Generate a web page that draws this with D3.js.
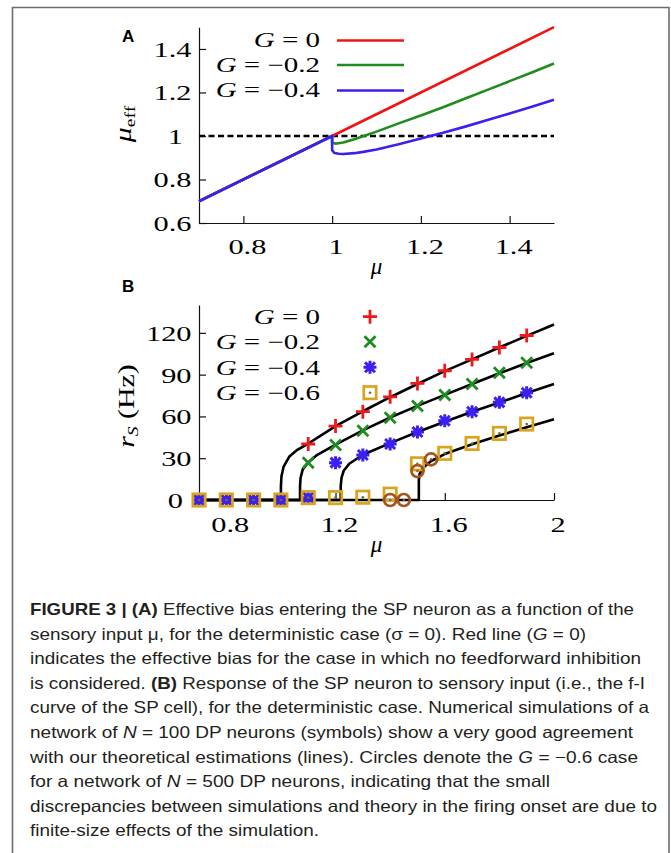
<!DOCTYPE html>
<html><head><meta charset="utf-8">
<script src="https://cdn.jsdelivr.net/npm/d3@7"></script>
<style>
html,body{margin:0;padding:0;background:#fff;}
svg{display:block;}
</style></head>
<body>
<svg id="fig" width="671" height="853"></svg>
<script>
// ---------- Panel A data ----------
const muA_G0 = [0.7, 1.0, 1.5];
const effA_G0 = [0.7, 1.0, 1.5];
const muA_G02 = [0.7, 1.0, 1.0, 1.01, 1.025, 1.05, 1.07, 1.1, 1.15, 1.2, 1.25, 1.3, 1.35, 1.4, 1.45, 1.5];
const effA_G02 = [0.7, 1.0, 0.968, 0.965, 0.970, 0.985, 0.999, 1.02, 1.058, 1.094, 1.132, 1.172, 1.212, 1.252, 1.292, 1.333];
const muA_G04 = [0.7, 1.0, 1.0, 1.005, 1.015, 1.025, 1.05, 1.07, 1.1, 1.15, 1.2, 1.25, 1.3, 1.35, 1.4, 1.45, 1.5];
const effA_G04 = [0.7, 1.0, 0.935, 0.922, 0.918, 0.917, 0.921, 0.927, 0.938, 0.962, 0.988, 1.015, 1.043, 1.073, 1.103, 1.134, 1.166];
const refLineA = [1, 1];
const legendA = ["0", "−0.2", "−0.4"];
const colorsA = ["#ee1414", "#1f8c1f", "#3c20f0"];
const xTicksA = [0.8, 1, 1.2, 1.4];
const yTicksA = [0.6, 0.8, 1, 1.2, 1.4];

// ---------- Panel B data ----------
const muTh_G0 = [0.7, 1.0, 1.0, 1.002, 1.01, 1.03, 1.06, 1.1, 1.2, 1.3, 1.4, 1.5, 1.6, 1.7, 1.8, 1.9, 2.0];
const rTh_G0 = [0, 0, 10, 17, 24, 31, 36, 40.5, 53, 63.7, 73.8, 83.3, 92.5, 101, 109.5, 117.8, 126];
const muTh_G02 = [0.7, 1.07, 1.07, 1.072, 1.08, 1.1, 1.13, 1.2, 1.3, 1.4, 1.5, 1.6, 1.7, 1.8, 1.9, 2.0];
const rTh_G02 = [0, 0, 10, 16, 22, 27, 32, 39.8, 50, 59.2, 67.6, 75.5, 83.3, 91, 98.3, 105.3];
const muTh_G04 = [0.7, 1.219, 1.219, 1.222, 1.23, 1.25, 1.3, 1.4, 1.5, 1.6, 1.7, 1.8, 1.9, 2.0];
const rTh_G04 = [0, 0, 10, 16, 21, 26, 32.5, 40.8, 48.8, 56.2, 63.3, 70, 76.8, 83.3];
const muTh_G06 = [0.7, 1.505, 1.505, 1.508, 1.52, 1.55, 1.6, 1.7, 1.8, 1.9, 2.0];
const rTh_G06 = [0, 0, 14, 19, 23, 28, 33, 40, 46.3, 52.2, 57.9];

const muSim = [0.7, 0.8, 0.9, 1.0, 1.1, 1.2, 1.3, 1.4, 1.5, 1.6, 1.7, 1.8, 1.9];
const rSim_G0 = [0, 0, 0, 0, 40.2, 53.1, 63.4, 74.1, 83.7, 92.8, 100.9, 109.5, 118.1];
const rSim_G02 = [0, 0, 0, 0, 26.8, 39.5, 49.8, 59.1, 67.5, 75.4, 83.3, 91.4, 98.6];
const rSim_G04 = [0, 0, 0, 0, 1.7, 26.8, 32.3, 40.2, 48.8, 56.9, 63.4, 70.1, 77.0];
const rSim_G06 = [0, 0, 0, 0, 1.7, 1.7, 2.0, 4.2, 26.0, 33.5, 40.6, 47.8, 54.5];
const muN500 = [1.4, 1.45, 1.5, 1.55];
const rN500 = [0, 0, 20.8, 29.2];
const legendB = ["0", "−0.2", "−0.4", "−0.6"];
const xTicksB = [0.8, 1.2, 1.6, 2];
const yTicksB = [0, 30, 60, 90, 120];

// ---------- Caption ----------
const captionLines = [
  [["FIGURE 3 | (A)", "b"], [" Effective bias entering the SP neuron as a function of the", ""]],
  [["sensory input μ, for the deterministic case (σ = 0). Red line (", ""], ["G", "i"], [" = 0)", ""]],
  [["indicates the effective bias for the case in which no feedforward inhibition", ""]],
  [["is considered. ", ""], ["(B)", "b"], [" Response of the SP neuron to sensory input (i.e., the f-I", ""]],
  [["curve of the SP cell), for the deterministic case. Numerical simulations of a", ""]],
  [["network of ", ""], ["N", "i"], [" = 100 DP neurons (symbols) show a very good agreement", ""]],
  [["with our theoretical estimations (lines). Circles denote the ", ""], ["G", "i"], [" = −0.6 case", ""]],
  [["for a network of ", ""], ["N", "i"], [" = 500 DP neurons, indicating that the small", ""]],
  [["discrepancies between simulations and theory in the firing onset are due to", ""]],
  [["finite-size effects of the simulation.", ""]]
];
const captionEnds = [634, 586, 641, 645, 649, 633, 638, 550, 657, 319];

// ---------- drawing ----------
const svg = d3.select("#fig");
const SERIF = "'Liberation Serif','Times New Roman',serif";
const SX = 1.38;

// frame
svg.append("path").attr("d", "M12.5,853V7.5H669V853").attr("fill", "none")
  .attr("stroke", "#6e6e6e").attr("stroke-width", 1.6);

function wideText(g, x, y, anchor, size) {
  return g.append("text").attr("transform", `translate(${x},${y}) scale(${SX},1)`)
    .attr("text-anchor", anchor).attr("font-family", SERIF).attr("font-size", size).attr("fill", "#000");
}
function styleAxis(sel) {
  sel.select(".domain").attr("stroke", "#111").attr("stroke-width", 1.2);
  sel.selectAll(".tick line").attr("stroke", "#111").attr("stroke-width", 1.2);
}
function yAxisLabels(sel, fmt) {
  sel.selectAll(".tick text").each(function(d) {
    const t = d3.select(this); const s = fmt(d);
    const dx = s.length === 1 ? -16 : -7.5;
    t.text(s).attr("x", 0).attr("dy", null).attr("y", 0)
     .attr("transform", `translate(${dx},7.5) scale(${SX},1)`)
     .attr("text-anchor", "end").attr("font-family", SERIF).attr("font-size", 22).attr("fill", "#000");
  });
}
function xAxisLabels(sel, fmt, off) {
  sel.selectAll(".tick text").each(function(d) {
    const t = d3.select(this);
    t.text(fmt(d)).attr("x", 0).attr("dy", null).attr("y", 0)
     .attr("transform", `translate(3.5,${off}) scale(${SX},1)`)
     .attr("text-anchor", "middle").attr("font-family", SERIF).attr("font-size", 22).attr("fill", "#000");
  });
}

// ===== Panel A =====
const xA = d3.scaleLinear().domain([0.7, 1.5]).range([199, 554]);
const yA = d3.scaleLinear().domain([0.6, 1.5]).range([223, 27.2]);
const gA = svg.append("g");

const axAx = gA.append("g").attr("transform", `translate(0,${yA(0.6)})`)
  .call(d3.axisBottom(xA).tickValues(xTicksA).tickSizeInner(-7).tickSizeOuter(0));
styleAxis(axAx); xAxisLabels(axAx, d => String(d), 31);
const ayAx = gA.append("g").attr("transform", `translate(${xA(0.7)},0)`)
  .call(d3.axisLeft(yA).tickValues(yTicksA).tickSizeInner(-7).tickSizeOuter(0));
styleAxis(ayAx); yAxisLabels(ayAx, d => String(d));

const lineA = d3.line().x(d => xA(d[0])).y(d => yA(d[1]));
// dashed reference line
gA.append("path").attr("d", lineA([[0.7, refLineA[0]], [1.5, refLineA[1]]]))
  .attr("fill", "none").attr("stroke", "#000").attr("stroke-width", 2.4).attr("stroke-dasharray", "6,3.5");
const seriesA = [
  d3.zip(muA_G0, effA_G0), d3.zip(muA_G02, effA_G02), d3.zip(muA_G04, effA_G04)
];
seriesA.forEach((s, i) => {
  gA.append("path").attr("d", lineA(s)).attr("fill", "none")
    .attr("stroke", colorsA[i]).attr("stroke-width", 2.6).attr("stroke-linejoin", "round");
});
// legend A
const legYA = [40.5, 65, 90.5];
legendA.forEach((lab, i) => {
  const t = wideText(gA, 320, legYA[i] + 6.5, "end", 21);
  t.append("tspan").attr("font-style", "italic").text("G");
  t.append("tspan").text(" = " + lab);
  gA.append("line").attr("x1", 337).attr("x2", 404).attr("y1", legYA[i]).attr("y2", legYA[i])
    .attr("stroke", colorsA[i]).attr("stroke-width", 2.6);
});
// axis titles A
gA.append("text").attr("x", 376.5).attr("y", 274).attr("text-anchor", "middle")
  .attr("font-family", SERIF).attr("font-style", "italic").attr("font-size", 23).text("μ");
const tyA = gA.append("text").attr("transform", "translate(131,124) rotate(-90) scale(1.3,1)")
  .attr("text-anchor", "middle").attr("font-family", SERIF);
tyA.append("tspan").attr("font-style", "italic").attr("font-size", 23).text("μ");
tyA.append("tspan").attr("font-size", 15).attr("dy", 4).text("eff");
gA.append("text").attr("x", 122).attr("y", 42).attr("font-family", "'Liberation Sans',Arial,sans-serif")
  .attr("font-weight", "bold").attr("font-size", 17).text("A");

// ===== Panel B =====
const xB = d3.scaleLinear().domain([0.7, 2]).range([199, 554]);
const yB = d3.scaleLinear().domain([0, 140]).range([500, 305]);
const gB = svg.append("g");

const bxAx = gB.append("g").attr("transform", `translate(0,${yB(0)})`)
  .call(d3.axisBottom(xB).tickValues(xTicksB).tickSizeInner(-7).tickSizeOuter(0));
styleAxis(bxAx); xAxisLabels(bxAx, d => String(d), 32);
const byAx = gB.append("g").attr("transform", `translate(${xB(0.7)},0)`)
  .call(d3.axisLeft(yB).tickValues(yTicksB).tickSizeInner(-7).tickSizeOuter(0));
styleAxis(byAx); yAxisLabels(byAx, d => String(d));

const lineB = d3.line().x(d => xB(d[0])).y(d => yB(d[1]));
[[muTh_G0, rTh_G0], [muTh_G02, rTh_G02], [muTh_G04, rTh_G04], [muTh_G06, rTh_G06]].forEach(([m, r]) => {
  gB.append("path").attr("d", lineB(d3.zip(m, r))).attr("fill", "none")
    .attr("stroke", "#000").attr("stroke-width", 2.6).attr("stroke-linejoin", "round");
});

const RED = "#ee1a1a", GREEN = "#1f8c1f", BLUE = "#3c20f0", GOLD = "#d9a31c", BROWN = "#a3561e";
function marker(g, type, x, y) {
  const m = g.append("g").attr("transform", `translate(${x},${y})`);
  if (type === "plus") {
    m.append("path").attr("d", "M-7,0H7M0,-7V7").attr("stroke", RED).attr("stroke-width", 2.8).attr("fill", "none");
  } else if (type === "cross") {
    m.append("path").attr("d", "M-5.5,-5.5L5.5,5.5M-5.5,5.5L5.5,-5.5").attr("stroke", GREEN).attr("stroke-width", 2.8).attr("fill", "none");
  } else if (type === "star") {
    m.append("path").attr("d", "M-6.5,0H6.5M0,-6.5V6.5M-5,-5L5,5M-5,5L5,-5").attr("stroke", BLUE).attr("stroke-width", 3).attr("fill", "none");
  } else if (type === "square") {
    m.append("rect").attr("x", -6.2).attr("y", -6.2).attr("width", 12.4).attr("height", 12.4)
      .attr("stroke", GOLD).attr("stroke-width", 2.7).attr("fill", "none");
    m.append("circle").attr("r", 1.3).attr("fill", "#8a6a10");
  } else if (type === "circle") {
    m.append("circle").attr("r", 6).attr("stroke", BROWN).attr("stroke-width", 2.7).attr("fill", "none");
    m.append("circle").attr("r", 1.3).attr("fill", BROWN);
  }
}
const simSets = [["plus", rSim_G0], ["cross", rSim_G02], ["star", rSim_G04], ["square", rSim_G06]];
simSets.forEach(([type, arr]) => {
  muSim.forEach((m, i) => marker(gB, type, xB(m), yB(arr[i])));
});
muN500.forEach((m, i) => marker(gB, "circle", xB(m), yB(rN500[i])));

// legend B
const legYB = [316.7, 341.7, 367.2, 392.7];
const legTypes = ["plus", "cross", "star", "square"];
legendB.forEach((lab, i) => {
  const t = wideText(gB, 320, legYB[i] + 7.5, "end", 21);
  t.append("tspan").attr("font-style", "italic").text("G");
  t.append("tspan").text(" = " + lab);
  marker(gB, legTypes[i], 370, legYB[i]);
});
gB.append("text").attr("x", 376.5).attr("y", 552).attr("text-anchor", "middle")
  .attr("font-family", SERIF).attr("font-style", "italic").attr("font-size", 23).text("μ");
const tyB = gB.append("text").attr("transform", "translate(134,406) rotate(-90) scale(1.3,1)")
  .attr("text-anchor", "middle").attr("font-family", SERIF).attr("font-size", 23);
tyB.append("tspan").attr("font-style", "italic").text("r");
tyB.append("tspan").attr("font-style", "italic").attr("font-size", 15).attr("dy", 4).text("S");
tyB.append("tspan").attr("dy", -4).text(" (Hz)");
gB.append("text").attr("x", 122).attr("y", 292).attr("font-family", "'Liberation Sans',Arial,sans-serif")
  .attr("font-weight", "bold").attr("font-size", 17).text("B");

// ===== Caption =====
const gC = svg.append("g");
captionLines.forEach((segs, i) => {
  const t = gC.append("text").attr("x", 30).attr("y", 615 + i * 24.6)
    .attr("font-family", "'Liberation Sans Narrow','Liberation Sans',Arial,sans-serif")
    .attr("font-size", 16.5).attr("fill", "#231f20")
    .attr("textLength", captionEnds[i] - 30).attr("lengthAdjust", "spacingAndGlyphs");
  segs.forEach(([s, st]) => {
    const ts = t.append("tspan").text(s);
    if (st === "b") ts.attr("font-weight", "bold");
    if (st === "i") ts.attr("font-style", "italic");
  });
});
</script>
</body></html>
